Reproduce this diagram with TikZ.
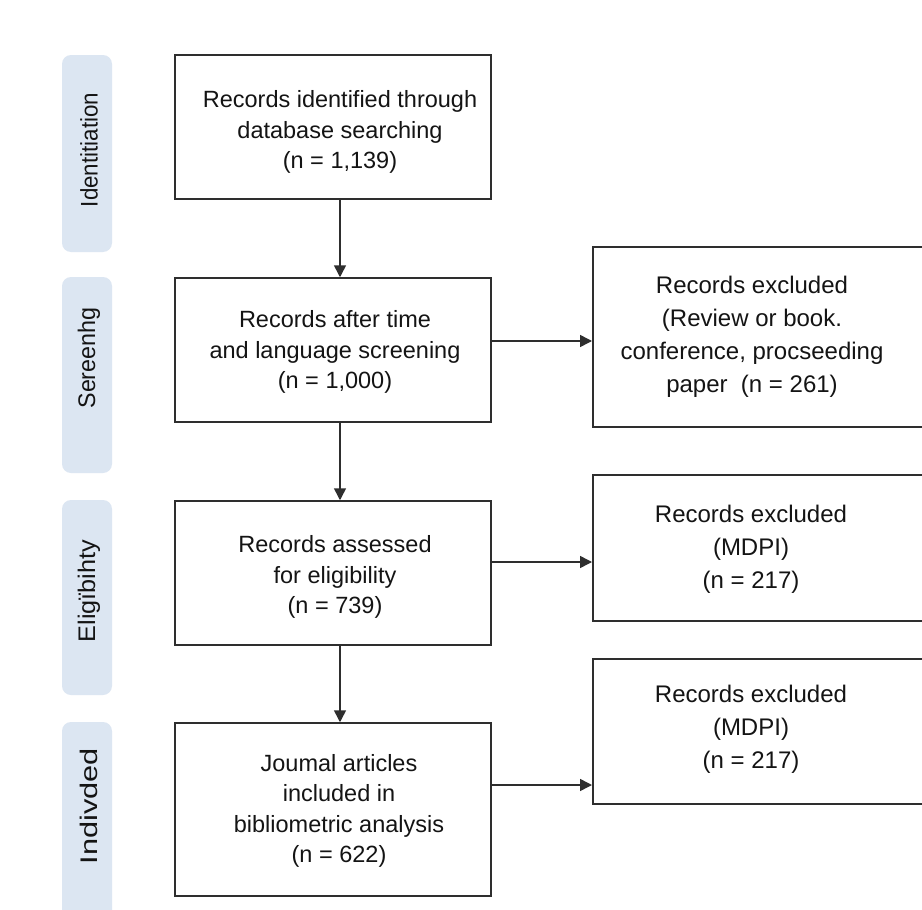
\documentclass[tikz,border=0pt]{standalone}
\usepackage{fontspec}
\setmainfont{Liberation Sans}
\usetikzlibrary{arrows.meta}
\definecolor{barblue}{HTML}{DCE6F2}
\definecolor{linegray}{HTML}{2E2E2E}
\definecolor{txtcol}{HTML}{141414}
\begin{document}
\begin{tikzpicture}[x=1pt,y=-1pt,
  box/.style={draw=linegray, line width=1.5pt, fill=white, inner sep=0pt},
  bar/.style={fill=barblue, rounded corners=9pt, inner sep=0pt, minimum width=50pt},
  btxt/.style={text=txtcol, align=center, inner sep=0pt, font=\fontsize{23.5}{30.5}\selectfont},
  rtxt/.style={text=txtcol, align=center, inner sep=0pt, font=\fontsize{24}{33}\selectfont},
  lbl/.style={text=txtcol, inner sep=0pt, rotate=90, font=\fontsize{24}{28}\selectfont},
  conn/.style={draw=linegray, line width=1.5pt, -{Triangle[length=12pt,width=12pt]}}]
\clip (0,0) rectangle (922,910);
\fill[white] (0,0) rectangle (922,910);

% phase bars
\node[bar, minimum height=197pt] (s1) at (87,153.5) {};
\node[bar, minimum height=196pt] (s2) at (87,375) {};
\node[bar, minimum height=195pt] (s3) at (87,597.5) {};
\node[bar, minimum height=220pt] (s4) at (87,832) {};
\node[lbl] (l1) at (89,150) {\scalebox{0.93}[1]{Identitiation}};
\node[lbl] (l2) at (89,358) {\scalebox{0.97}[1]{Sereenhg}};
\node[lbl] (l3) at (89,591) {\scalebox{1.05}[1]{Eligïbihty}};
\node[lbl] (l4) at (89,806) {\scalebox{1.28}[1]{Indivded}};

% main boxes
\node[box, minimum width=316pt, minimum height=144pt] (b1) at (333,127) {};
\node[box, minimum width=316pt, minimum height=144pt] (b2) at (333,350) {};
\node[box, minimum width=316pt, minimum height=144pt] (b3) at (333,573) {};
\node[box, minimum width=316pt, minimum height=173pt] (b4) at (333,809.5) {};

% exclusion boxes (run off the right edge)
\node[box, minimum width=380pt, minimum height=180pt, anchor=west] (e1) at (592,337) {};
\node[box, minimum width=380pt, minimum height=146pt, anchor=west] (e2) at (592,548) {};
\node[box, minimum width=380pt, minimum height=145pt, anchor=west] (e3) at (592,731.5) {};

% texts
\node[btxt] (t1) at (340,132) {Records identified through\\database searching\\(n = 1,139)};
\node[btxt] (t2) at (335,352) {Records after time\\and language screening\\(n = 1,000)};
\node[btxt] (t3) at (335,577) {Records assessed\\for eligibility\\(n = 739)};
\node[btxt] (t4) at (339,811) {Joumal articles\\included in\\bibliometric analysis\\(n = 622)};
\node[rtxt] (u1) at (752,337) {Records excluded\\(Review or book.\\conference, procseeding\\paper~ (n = 261)};
\node[rtxt] (u2) at (751,549) {Records excluded\\(MDPI)\\(n = 217)};
\node[rtxt] (u3) at (751,729) {Records excluded\\(MDPI)\\(n = 217)};

% connectors
\draw[conn] (b1.south -| 340,0) -- (b2.north -| 340,0);
\draw[conn] (b2.south -| 340,0) -- (b3.north -| 340,0);
\draw[conn] (b3.south -| 340,0) -- (b4.north -| 340,0);
\draw[conn] (b2.east |- 0,341) -- (e1.west |- 0,341);
\draw[conn] (b3.east |- 0,562) -- (e2.west |- 0,562);
\draw[conn] (b4.east |- 0,785) -- (e3.west |- 0,785);
\end{tikzpicture}
\end{document}
